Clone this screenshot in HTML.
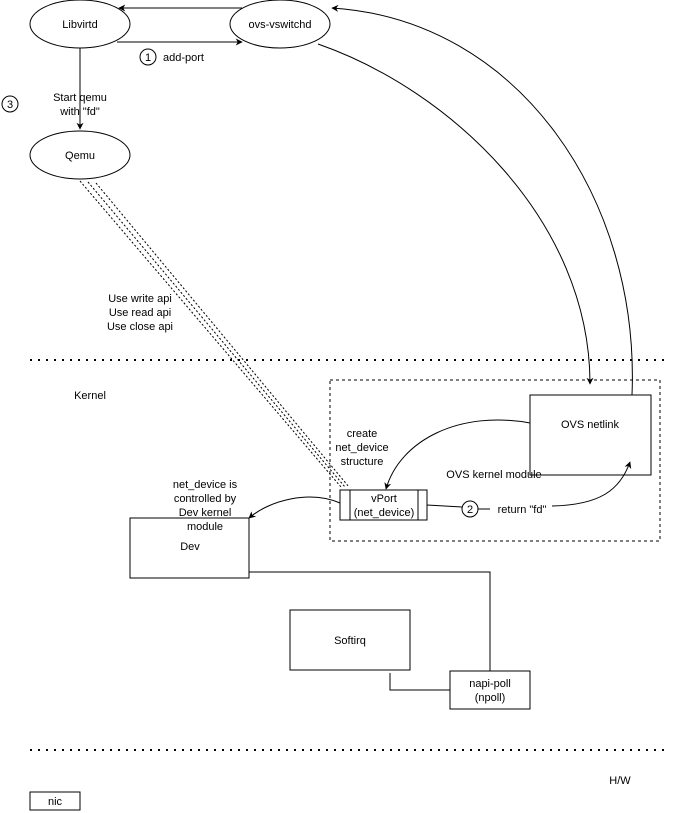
<!DOCTYPE html>
<html><head><style>
body{margin:0;background:#fff;}
svg{display:block;font-family:"Liberation Sans",Arial,sans-serif;font-size:11px;}
</style></head><body>
<svg width="681" height="813" viewBox="0 0 681 813" xmlns="http://www.w3.org/2000/svg">
<defs>
<marker id="a" viewBox="0 0 10 10" refX="9" refY="5" markerWidth="7" markerHeight="7" orient="auto-start-reverse"><path d="M0,0 L10,5 L0,10 L3,5 z" fill="#000"/></marker>
</defs>
<g fill="none" stroke="#000" stroke-width="1">
<ellipse cx="80" cy="24" rx="50" ry="24" fill="#fff"/>
<ellipse cx="280" cy="24" rx="50" ry="24" fill="#fff"/>
<ellipse cx="80" cy="155" rx="50" ry="24" fill="#fff"/>
<line x1="242" y1="8" x2="119" y2="8" marker-end="url(#a)"/>
<line x1="117" y1="42" x2="242" y2="42" marker-end="url(#a)"/>
<circle cx="148" cy="57" r="8"/>
<line x1="80" y1="48" x2="80" y2="129" marker-end="url(#a)"/>
<circle cx="10" cy="104" r="8"/>
<path d="M318,44 C450,90 590,220 590,384" marker-end="url(#a)"/>
<path d="M632,395 C640,200 520,20 332,8" marker-end="url(#a)"/>
<line x1="80" y1="181" x2="341" y2="487" stroke-dasharray="2,2"/>
<line x1="88" y1="182" x2="345" y2="487" stroke-dasharray="2,2"/>
<line x1="96" y1="183" x2="349" y2="487" stroke-dasharray="2,2"/>
<line x1="30" y1="360" x2="665" y2="360" stroke-dasharray="2,6" stroke-width="2"/>
<line x1="30" y1="750" x2="665" y2="750" stroke-dasharray="2,6" stroke-width="2"/>
<rect x="330" y="380" width="330" height="161" stroke-dasharray="3,3"/>
<rect x="530" y="395" width="121" height="80" fill="#fff"/>
<path d="M530,423 C460,410 400,440 386,489" marker-end="url(#a)"/>
<rect x="340" y="490" width="87" height="30" fill="#fff"/>
<line x1="350" y1="490" x2="350" y2="520"/><line x1="418" y1="490" x2="418" y2="520"/>
<line x1="427" y1="505" x2="462" y2="507"/>
<circle cx="470" cy="509" r="8"/>
<line x1="478" y1="509" x2="490" y2="509"/>
<path d="M552,506 C600,505 620,490 630,462" marker-end="url(#a)"/>
<rect x="130" y="518" width="119" height="60" fill="#fff"/>
<path d="M340,503 C310,490 270,500 249,518" marker-end="url(#a)"/>
<polyline points="249,572 490,572 490,671"/>
<rect x="290" y="610" width="120" height="60"/>
<rect x="450" y="671" width="80" height="38"/>
<polyline points="390,673 390,690 450,690"/>
<rect x="30" y="792" width="50" height="18"/>
</g>
<g fill="#000" text-anchor="middle">
<text x="80" y="28">Libvirtd</text>
<text x="280" y="28">ovs-vswitchd</text>
<text x="80" y="159">Qemu</text>
<text x="148" y="61">1</text>
<text x="163" y="61" text-anchor="start">add-port</text>
<text x="10" y="108">3</text>
<text x="80" y="101">Start qemu</text>
<text x="80" y="115">with "fd"</text>
<text x="140" y="302">Use write api</text>
<text x="140" y="316">Use read api</text>
<text x="140" y="330">Use close api</text>
<text x="90" y="399">Kernel</text>
<text x="590" y="428">OVS netlink</text>
<text x="362" y="437">create</text>
<text x="362" y="451">net_device</text>
<text x="362" y="465">structure</text>
<text x="494" y="478">OVS kernel module</text>
<text x="384" y="502">vPort</text>
<text x="384" y="516">(net_device)</text>
<text x="470" y="513">2</text>
<text x="522" y="513">return "fd"</text>
<text x="205" y="488">net_device is</text>
<text x="205" y="502">controlled by</text>
<text x="205" y="516">Dev kernel</text>
<text x="205" y="530">module</text>
<text x="190" y="550">Dev</text>
<text x="350" y="644">Softirq</text>
<text x="490" y="687">napi-poll</text>
<text x="490" y="701">(npoll)</text>
<text x="620" y="784">H/W</text>
<text x="55" y="805">nic</text>
</g>
</svg>
</body></html>
